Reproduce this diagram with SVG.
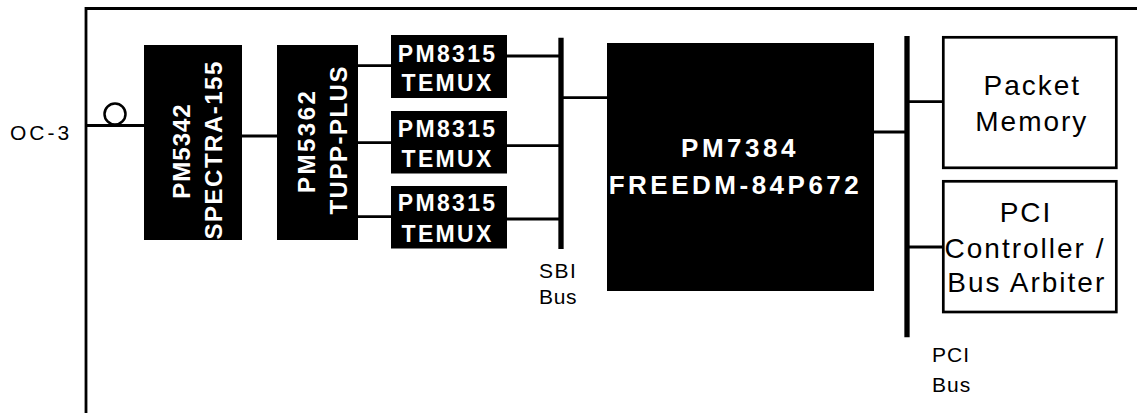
<svg xmlns="http://www.w3.org/2000/svg" width="1137" height="413" viewBox="0 0 1137 413">
<style>
.chip{fill:#000}
.box{fill:#fff;stroke:#000;stroke-width:2.7}
.ct{font-family:"Liberation Sans",Arial,sans-serif;font-weight:bold;fill:#fff}
.lt{font-family:"Liberation Sans",Arial,sans-serif;fill:#000}
.w{stroke:#000;stroke-width:2.8;fill:none}
.bus{stroke:#000;stroke-width:5.3;fill:none}
</style>
<rect x="0" y="0" width="1137" height="413" fill="#fff"/>
<g id="frame">
<path class="w" d="M86 413 V8.5 H1137"/>
</g>
<g id="connectors">
<path class="w" d="M86 125.5 H144"/>
<circle cx="115" cy="114" r="10.5" fill="none" stroke="#000" stroke-width="2.5"/>
<path class="w" d="M242 136 H277"/>
<path class="w" d="M358 65.7 H391 M358 142.7 H391 M358 216.7 H391"/>
<path class="w" d="M507 56 H561 M507 145.7 H561 M507 219 H561"/>
<path class="bus" d="M561 37.7 V249"/>
<path class="w" d="M561 97.7 H607"/>
<path class="w" d="M874 132 H907"/>
<path class="bus" d="M907 36 V337.3"/>
<path class="w" d="M907 101.7 H942 M907 247 H942"/>
</g>
<g id="oc3">
<text class="lt" x="10" y="140" font-size="21" letter-spacing="3">OC-3</text>
</g>
<g id="spectra">
<rect class="chip" x="144" y="45" width="98" height="195"/>
<text class="ct" font-size="24" letter-spacing="1" text-anchor="middle" transform="translate(190,151) rotate(-90)">PM5342</text>
<text class="ct" font-size="24" letter-spacing="1.5" text-anchor="middle" transform="translate(221.7,149.8) rotate(-90)">SPECTRA-155</text>
</g>
<g id="tupp">
<rect class="chip" x="277" y="45" width="81" height="195"/>
<text class="ct" font-size="24" letter-spacing="2.5" text-anchor="middle" transform="translate(315,140.8) rotate(-90)">PM5362</text>
<text class="ct" font-size="24" letter-spacing="1.5" text-anchor="middle" transform="translate(346.7,139.8) rotate(-90)">TUPP-PLUS</text>
</g>
<g id="temux1">
<rect class="chip" x="391" y="35" width="116" height="63"/>
<text class="ct" font-size="23" letter-spacing="2.3" text-anchor="middle" x="447.6" y="61.5">PM8315</text>
<text class="ct" font-size="23" letter-spacing="2.3" text-anchor="middle" x="447.6" y="91">TEMUX</text>
</g>
<g id="temux2">
<rect class="chip" x="391" y="111" width="116" height="62.5"/>
<text class="ct" font-size="23" letter-spacing="2.3" text-anchor="middle" x="447.6" y="136.8">PM8315</text>
<text class="ct" font-size="23" letter-spacing="2.3" text-anchor="middle" x="447.6" y="166.5">TEMUX</text>
</g>
<g id="temux3">
<rect class="chip" x="391" y="186" width="116" height="62.5"/>
<text class="ct" font-size="23" letter-spacing="2.3" text-anchor="middle" x="447.6" y="210.5">PM8315</text>
<text class="ct" font-size="23" letter-spacing="2.3" text-anchor="middle" x="447.6" y="241.5">TEMUX</text>
</g>
<g id="sbi-label">
<text class="lt" x="539" y="277.5" font-size="21" letter-spacing="1.5">SBI</text>
<text class="lt" x="539" y="304" font-size="21" letter-spacing="0.7">Bus</text>
</g>
<g id="freedm">
<rect class="chip" x="607" y="43" width="267" height="248"/>
<text class="ct" font-size="26" letter-spacing="3.5" text-anchor="middle" x="740" y="157">PM7384</text>
<text class="ct" font-size="26" letter-spacing="3.5" text-anchor="middle" x="735.5" y="194">FREEDM-84P672</text>
</g>
<g id="packet-memory">
<rect class="box" x="943.3" y="37.3" width="173" height="130.5"/>
<text class="lt" font-size="28" letter-spacing="2" text-anchor="middle" x="1032.3" y="95">Packet</text>
<text class="lt" font-size="28" letter-spacing="2" text-anchor="middle" x="1031.8" y="130.5">Memory</text>
</g>
<g id="pci-controller">
<rect class="box" x="943.3" y="181.3" width="173" height="130.7"/>
<text class="lt" font-size="28" letter-spacing="2" text-anchor="middle" x="1026" y="221.7">PCI</text>
<text class="lt" font-size="28" letter-spacing="2" text-anchor="middle" x="1025" y="257.5">Controller /</text>
<text class="lt" font-size="28" letter-spacing="2" text-anchor="middle" x="1026.8" y="291.5">Bus Arbiter</text>
</g>
<g id="pci-label">
<text class="lt" x="932" y="362.3" font-size="21" letter-spacing="1">PCI</text>
<text class="lt" x="932" y="392.3" font-size="21" letter-spacing="1">Bus</text>
</g>
</svg>
